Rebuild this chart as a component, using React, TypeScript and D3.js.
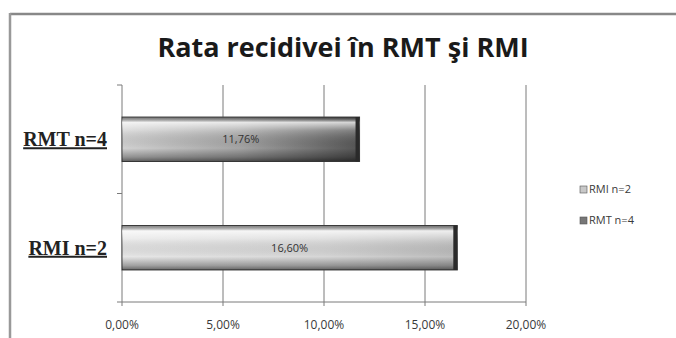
import React from "react";
import * as d3 from "d3";

const categories = ["RMT n=4", "RMI n=2"];
const values = [0.1176, 0.166];
const tickValues = [0, 0.05, 0.1, 0.15, 0.2];
const legendLabels = ["RMI n=2", "RMT n=4"];
const title = "Rata recidivei în RMT şi RMI";

const W = 676;
const H = 338;

const locale = d3.formatLocale({ decimal: ",", thousands: ".", grouping: [3], currency: ["", ""] });
const pct = locale.format(".2%");

export default function App() {
  const x = d3.scaleLinear().domain([0, 0.2]).range([122, 526]);
  const y = d3.scaleBand().domain(categories).range([85, 302]).padding(0);
  const barH = y.bandwidth() * 0.41;
  const grid = "#7a7a7a";

  return (
    <svg width={W} height={H} style={{ position: "absolute", left: 0, top: 0, background: "#fff" }}>
      <defs>
        <linearGradient id="gDark" x1="0" y1="0" x2="1" y2="0">
          <stop offset="0" stopColor="#d2d2d2" />
          <stop offset="0.5" stopColor="#a4a4a4" />
          <stop offset="1" stopColor="#555" />
        </linearGradient>
        <linearGradient id="gLight" x1="0" y1="0" x2="1" y2="0">
          <stop offset="0" stopColor="#e6e6e6" />
          <stop offset="0.6" stopColor="#d6d6d6" />
          <stop offset="1" stopColor="#bcbcbc" />
        </linearGradient>
        <linearGradient id="gShade" x1="0" y1="0" x2="0" y2="1">
          <stop offset="0" stopColor="#000" stopOpacity="0.4" />
          <stop offset="0.12" stopColor="#fff" stopOpacity="0.75" />
          <stop offset="0.3" stopColor="#fff" stopOpacity="0.25" />
          <stop offset="0.7" stopColor="#000" stopOpacity="0.0" />
          <stop offset="0.9" stopColor="#000" stopOpacity="0.3" />
          <stop offset="1" stopColor="#000" stopOpacity="0.55" />
        </linearGradient>
      </defs>

      {/* chart border */}
      <line x1={10} y1={14} x2={W} y2={14} stroke="#888" strokeWidth={2.5} />
      <line x1={10} y1={13} x2={10} y2={H} stroke="#999" strokeWidth={2.5} />

      <text x={343} y={57} textAnchor="middle" fontFamily="Open Sans, sans-serif" fontWeight="bold" fontSize={27} fill="#1a1a1a">
        {title}
      </text>

      {/* gridlines */}
      {tickValues.map((t) => (
        <g key={t}>
          <line x1={x(t)} x2={x(t)} y1={85} y2={306} stroke={grid} strokeWidth={1} />
          <text x={x(t)} y={329} textAnchor="middle" fontFamily="Open Sans, sans-serif" fontSize={12} fill="#3a3a3a">
            {pct(t)}
          </text>
        </g>
      ))}
      <line x1={x(0)} x2={x(0.2)} y1={302} y2={302} stroke={grid} strokeWidth={1} />
      {[85, 85 + y.step(), 302].map((v, i) => (
        <line key={i} x1={117} x2={122} y1={v} y2={v} stroke={grid} strokeWidth={1} />
      ))}

      {/* bars */}
      {categories.map((c, i) => {
        const yc = (y(c) as number) + y.bandwidth() / 2;
        const y0 = yc - barH / 2;
        const x0 = x(0);
        const x1 = x(values[i]);
        return (
          <g key={c}>
            <rect x={x0} y={y0} width={x1 - x0} height={barH} fill={i === 0 ? "url(#gDark)" : "url(#gLight)"} stroke="#4a4a4a" strokeWidth={1} />
            <rect x={x0} y={y0} width={x1 - x0} height={barH} fill="url(#gShade)" />
            <rect x={x1 - 4} y={y0} width={4} height={barH} fill="#2a2a2a" />
            <text x={(x0 + x1) / 2} y={yc + 4} textAnchor="middle" fontFamily="Open Sans, sans-serif" fontSize={11} fill="#333">
              {pct(values[i])}
            </text>
            <text x={107} y={yc + 7} textAnchor="end" fontFamily="Liberation Serif, serif" fontWeight="bold" fontSize={20} fill="#222" textDecoration="underline">
              {c}
            </text>
          </g>
        );
      })}

      {/* legend */}
      {legendLabels.map((l, i) => (
        <g key={l}>
          <rect x={580} y={186 + i * 31} width={7} height={7} fill={i === 0 ? "#c8c8c8" : "#777"} stroke="#555" strokeWidth={0.6} />
          <text x={589} y={193 + i * 31} fontFamily="Open Sans, sans-serif" fontSize={11} fill="#3a3a3a">
            {l}
          </text>
        </g>
      ))}
    </svg>
  );
}
